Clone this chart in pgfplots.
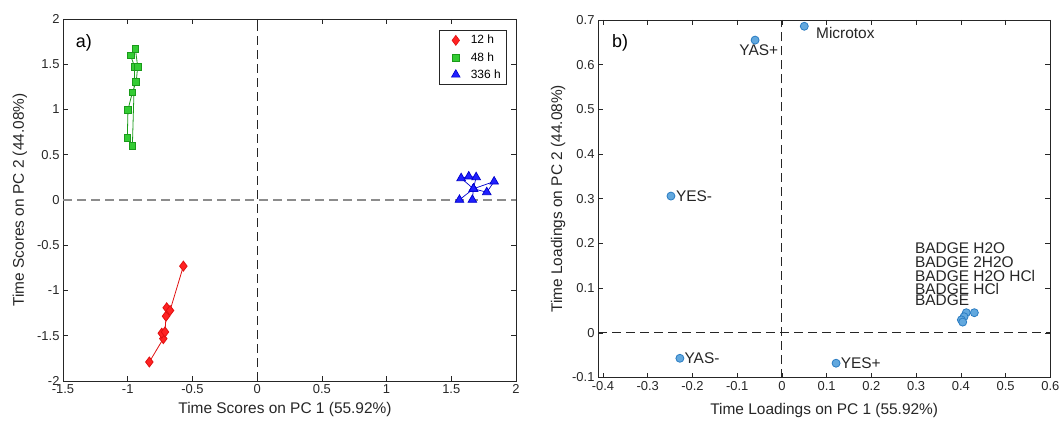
\documentclass[border=0pt]{standalone}
\usepackage{pgfplots}
\pgfplotsset{compat=1.18}
\usepackage{fontspec}
\setmainfont{Liberation Sans}

\definecolor{axc}{HTML}{262626}
\definecolor{redf}{HTML}{FF2222}
\definecolor{rede}{HTML}{E01010}
\definecolor{grnf}{HTML}{33CC33}
\definecolor{grne}{HTML}{1A9A1A}
\definecolor{bluf}{HTML}{2020FF}
\definecolor{blue}{HTML}{0000CC}
\definecolor{ldgf}{HTML}{62A8DE}
\definecolor{ldge}{HTML}{2A7CC2}
\definecolor{dash1}{HTML}{8C8C8C}

\pgfplotsset{
  matstyle/.style={
    scale only axis,
    clip=false,
    axis line style={axc, line width=0.6bp},
    tick style={axc, line width=0.6bp},
    tick align=inside,
    major tick length=5bp,
    tick label style={font=\fontsize{13}{13}\selectfont, text=axc},
    label style={font=\fontsize{15.5}{16}\selectfont, text=axc},
    /pgf/number format/assume math mode=true,
    /pgf/number format/fixed,
  },
}

\begin{document}
\begin{tikzpicture}[x=1bp,y=1bp]
\useasboundingbox (0,0) rectangle (1062,423);

% ---------- a) scores ----------
\begin{axis}[matstyle,
    at={(63bp,42bp)}, anchor=south west,
    width=453bp, height=362bp,
    xmin=-1.5, xmax=2, ymin=-2, ymax=2,
    xtick={-1.5,-1,-0.5,0,0.5,1,1.5,2},
    ytick={-2,-1.5,-1,-0.5,0,0.5,1,1.5,2},
    xlabel={Time Scores on PC 1 (55.92\%)},
    ylabel={Time Scores on PC 2 (44.08\%)},
    xlabel style={at={(axis description cs:0.49,-0.08)}, anchor=center},
    ylabel style={at={(axis description cs:-0.095,0.5)}, anchor=center},
    legend style={at={(1,1)}, anchor=north east, xshift=-9bp, yshift=-11bp,
        draw=axc, line width=0.6bp, font=\fontsize{12}{12}\selectfont,
        inner xsep=4bp, inner ysep=3bp, row sep=3bp},
    legend cell align=left,
    legend image code/.code={\path[draw=none] (0,0) -- (26bp,0); \draw[#1] plot coordinates {(13bp,0)};},
]
\addplot[dash1, line width=1.1bp, dash pattern=on 9bp off 5bp, forget plot] coordinates {(-1.5,0) (2,0)};
\addplot[axc, line width=1.1bp, dash pattern=on 9bp off 5bp, forget plot] coordinates {(0,-2) (0,2)};

% 12 h
\addplot[rede, line width=0.8bp, mark=diamond*, mark size=5bp,
    mark options={fill=redf, draw=rede, solid}, forget plot] coordinates {
  (-0.833,-1.790) (-0.725,-1.532) (-0.737,-1.472) (-0.712,-1.458)
  (-0.704,-1.284) (-0.699,-1.191) (-0.673,-1.221) (-0.570,-0.731)
};
% 48 h
\addplot[grne, line width=0.8bp, mark=square*, mark size=3.4bp,
    mark options={fill=grnf, draw=grne, solid}, forget plot] coordinates {
  (-0.964,0.594) (-0.946,1.467) (-0.977,1.597) (-0.941,1.671)
  (-0.923,1.475) (-0.934,1.309) (-0.964,1.188) (-0.998,0.997)
  (-1.003,0.687)
};
% 336 h
\addplot[blue, line width=0.7bp, mark=triangle*, mark size=5bp,
    mark options={fill=bluf, draw=blue, solid}, forget plot] coordinates {
  (1.563,0.002) (1.671,0.124) (1.576,0.241) (1.635,0.260)
  (1.692,0.252) (1.671,0.124) (1.831,0.204) (1.774,0.086)
  (1.671,0.124) (1.663,0.002)
};

\addlegendimage{only marks, mark=diamond*, mark size=5bp, mark options={fill=redf, draw=rede}}
\addlegendentry{12 h}
\addlegendimage{only marks, mark=square*, mark size=3.4bp, mark options={fill=grnf, draw=grne}}
\addlegendentry{48 h}
\addlegendimage{only marks, mark=triangle*, mark size=5bp, mark options={fill=bluf, draw=blue}}
\addlegendentry{336 h}

\node[anchor=west, font=\fontsize{18}{18}\selectfont, inner sep=0pt]
  at (axis description cs:0.028,0.934) {a)};
\end{axis}

% ---------- b) loadings ----------
\begin{axis}[matstyle,
    at={(598bp,45.5bp)}, anchor=south west,
    width=452.4bp, height=357.5bp,
    xmin=-0.411, xmax=0.6, ymin=-0.1, ymax=0.7,
    xtick={-0.4,-0.3,-0.2,-0.1,0,0.1,0.2,0.3,0.4,0.5,0.6},
    ytick={-0.1,0,0.1,0.2,0.3,0.4,0.5,0.6,0.7},
    xlabel={Time Loadings on PC 1 (55.92\%)},
    ylabel={Time Loadings on PC 2 (44.08\%)},
    xlabel style={at={(axis description cs:0.5,-0.092)}, anchor=center},
    ylabel style={at={(axis description cs:-0.088,0.5)}, anchor=center},
]
\addplot[axc, line width=1.1bp, dash pattern=on 9bp off 5bp] coordinates {(-0.411,0) (0.6,0)};
\addplot[axc, line width=1.1bp, dash pattern=on 9bp off 5bp] coordinates {(0,-0.1) (0,0.7)};

\addplot[only marks, mark=*, mark size=4bp, mark options={fill=ldgf, draw=ldge, line width=0.8bp}]
  coordinates {
  (-0.060,0.655) (0.050,0.686) (-0.248,0.306) (-0.228,-0.057) (0.121,-0.068)
  (0.430,0.045) (0.412,0.045) (0.407,0.036) (0.401,0.029) (0.404,0.024)
};

\begin{scope}[every node/.style={font=\fontsize{15.5}{16}\selectfont, text=axc, inner sep=0pt}]
\node[anchor=east] at (axis cs:-0.008,0.632) {YAS+};
\node[anchor=west] at (axis cs:0.076,0.671) {Microtox};
\node[anchor=west] at (axis cs:-0.237,0.306) {YES-};
\node[anchor=west] at (axis cs:-0.218,-0.057) {YAS-};
\node[anchor=west] at (axis cs:0.131,-0.068) {YES+};
\node[anchor=west] at (axis cs:0.297,0.190) {BADGE H2O};
\node[anchor=west] at (axis cs:0.297,0.158) {BADGE 2H2O};
\node[anchor=west] at (axis cs:0.297,0.128) {BADGE H2O HCl};
\node[anchor=west] at (axis cs:0.297,0.099) {BADGE HCl};
\node[anchor=west] at (axis cs:0.297,0.072) {BADGE};
\end{scope}

\node[anchor=west, font=\fontsize{18}{18}\selectfont, inner sep=0pt]
  at (axis description cs:0.031,0.936) {b)};
\end{axis}
\end{tikzpicture}
\end{document}
